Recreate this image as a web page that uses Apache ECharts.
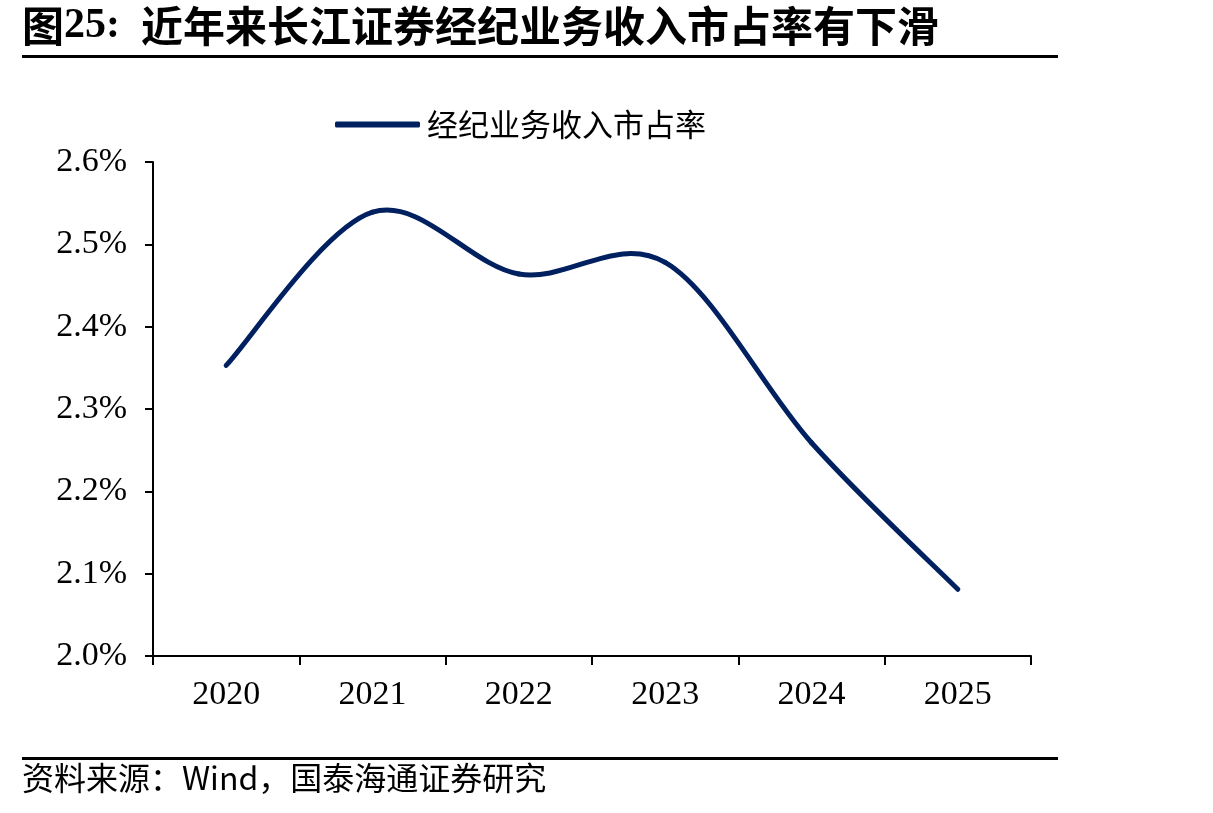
<!DOCTYPE html>
<html>
<head>
<meta charset="utf-8">
<script src="https://cdn.jsdelivr.net/npm/echarts@6/dist/echarts.min.js"></script>
<style>
html,body{margin:0;padding:0;background:#fff;}
#chart{width:1213px;height:813px;}
</style>
</head>
<body>
<div id="chart"></div>
<script>
const categories = ['2020', '2021', '2022', '2023', '2024', '2025'];
const shareValues = [2.353, 2.539, 2.464, 2.478, 2.259, 2.081];
const seriesName = '经纪业务收入市占率';
const yTicks = { min: 2.0, max: 2.6, interval: 0.1 };
const titleText = '近年来长江证券经纪业务收入市占率有下滑';
const sourceText = '资料来源：Wind，国泰海通证券研究';

const chart = echarts.init(document.getElementById('chart'), null, { renderer: 'canvas' });
const serif = '"Liberation Serif", "Noto Sans CJK SC", serif';
const cjk = '"Noto Sans CJK SC", "Liberation Serif", serif';
const lineColor = '#002060';

// Excel-like smoothed line (Catmull-Rom -> cubic Bezier), positions via the chart's own axes
function renderSegment(params, api) {
  const i = params.dataIndex;
  const n = shareValues.length;
  if (i >= n - 1) return null;
  const pt = k => {
    const j = Math.max(0, Math.min(n - 1, k));
    return api.coord([j, shareValues[j]]);
  };
  const p0 = pt(i - 1), p1 = pt(i), p2 = pt(i + 1), p3 = pt(i + 2);
  return {
    type: 'bezierCurve',
    shape: {
      x1: p1[0], y1: p1[1],
      cpx1: p1[0] + (p2[0] - p0[0]) / 6, cpy1: p1[1] + (p2[1] - p0[1]) / 6,
      cpx2: p2[0] - (p3[0] - p1[0]) / 6, cpy2: p2[1] - (p3[1] - p1[1]) / 6,
      x2: p2[0], y2: p2[1]
    },
    style: { stroke: lineColor, lineWidth: 5, fill: null, lineCap: 'round' }
  };
}

chart.setOption({
  backgroundColor: '#ffffff',
  animation: false,
  grid: { left: 153, right: 182, top: 162, bottom: 157, containLabel: false },
  legend: {
    data: [seriesName],
    left: 330,
    top: 104,
    icon: 'roundRect',
    itemWidth: 85,
    itemHeight: 6,
    itemGap: 10,
    textStyle: { fontFamily: cjk, fontSize: 31, color: '#000', padding: [0, 0, 0, 2] }
  },
  xAxis: {
    type: 'category',
    data: categories,
    boundaryGap: true,
    axisLine: { show: true, lineStyle: { color: '#000', width: 2 } },
    axisTick: { show: true, inside: false, length: 9, lineStyle: { color: '#000', width: 2 } },
    axisLabel: { margin: 22, fontFamily: serif, fontSize: 34, color: '#000' },
    splitLine: { show: false }
  },
  yAxis: {
    type: 'value',
    min: yTicks.min,
    max: yTicks.max,
    interval: yTicks.interval,
    axisLine: { show: true, lineStyle: { color: '#000', width: 2 } },
    axisTick: { show: true, inside: false, length: 8, lineStyle: { color: '#000', width: 2 } },
    axisLabel: {
      margin: 26,
      fontFamily: serif,
      fontSize: 34,
      color: '#000',
      formatter: v => v.toFixed(1) + '%'
    },
    splitLine: { show: false }
  },
  series: [{
    name: seriesName,
    type: 'custom',
    renderItem: renderSegment,
    data: shareValues.map((v, i) => [i, v]),
    encode: { x: 0, y: 1 },
    itemStyle: { color: lineColor },
    clip: false
  }],
  graphic: [
    {
      type: 'text',
      left: 22,
      top: 5,
      style: {
        text: '{a|图}{b|25:  }{a|' + titleText + '}',
        rich: {
          a: { fontFamily: cjk, fontWeight: 'bold', fontSize: 42, fill: '#000' },
          b: { fontFamily: serif, fontWeight: 'bold', fontSize: 42, fill: '#000' }
        }
      }
    },
    {
      type: 'rect',
      shape: { x: 22, y: 55, width: 1036, height: 3 },
      style: { fill: '#000' }
    },
    {
      type: 'rect',
      shape: { x: 22, y: 757, width: 1036, height: 3 },
      style: { fill: '#000' }
    },
    {
      type: 'text',
      left: 22,
      top: 762,
      style: { text: sourceText, fontFamily: cjk, fontSize: 32, fill: '#000' }
    }
  ]
});
</script>
</body>
</html>
